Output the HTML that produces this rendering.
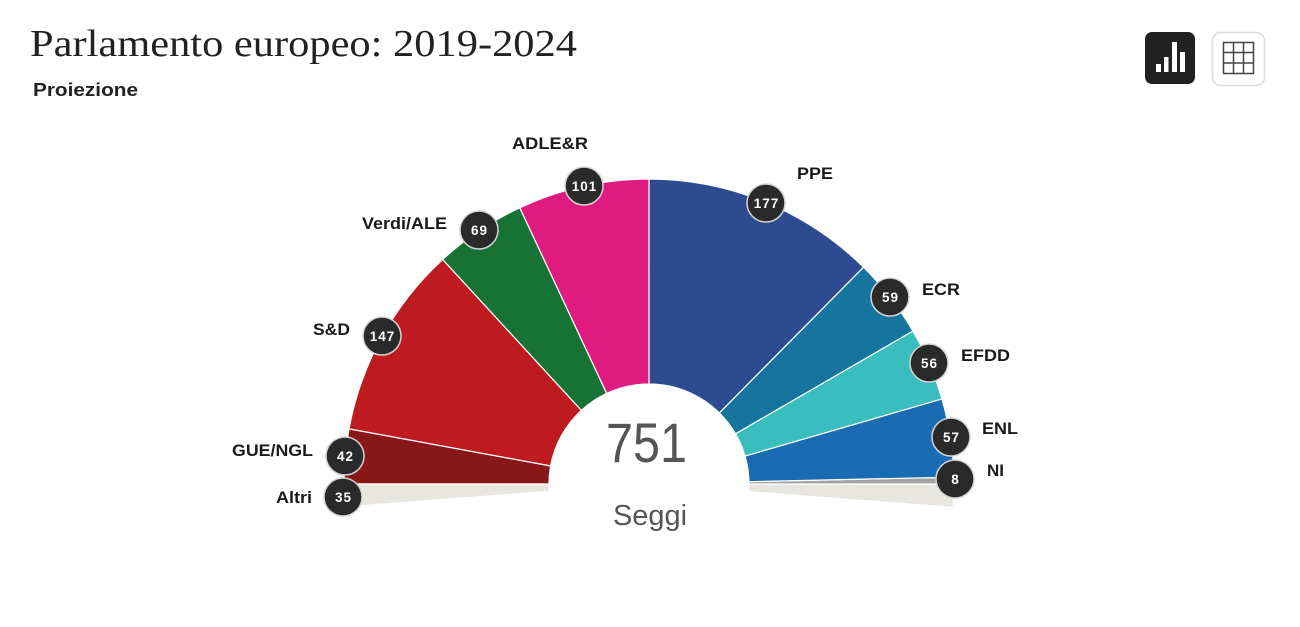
<!DOCTYPE html>
<html>
<head>
<meta charset="utf-8">
<style>
html,body{margin:0;padding:0;background:#fff;}
body{width:1300px;height:627px;overflow:hidden;}
svg{display:block;}
</style>
</head>
<body>
<svg width="1300" height="627" viewBox="0 0 1300 627" xmlns="http://www.w3.org/2000/svg">
  <rect width="1300" height="627" fill="#ffffff"/>

  <!-- Title -->
  <text x="30" y="56" font-family="Liberation Serif, serif" font-size="38" fill="#222" textLength="547" lengthAdjust="spacingAndGlyphs">Parlamento europeo: 2019-2024</text>
  <text x="33" y="96" font-family="Liberation Sans, sans-serif" font-size="18" font-weight="bold" fill="#222" textLength="105" lengthAdjust="spacingAndGlyphs">Proiezione</text>

  <!-- Buttons -->
  <rect x="1145" y="32" width="50" height="52" rx="7" fill="#222"/>
  <rect x="1156" y="64" width="5" height="8" fill="#fff"/>
  <rect x="1164" y="57" width="4.5" height="15" fill="#fff"/>
  <rect x="1172" y="42" width="5" height="30" fill="#fff"/>
  <rect x="1180" y="52" width="5" height="20" fill="#fff"/>

  <rect x="1212.5" y="32.5" width="52" height="53" rx="8" fill="#fff" stroke="#dcdcdc" stroke-width="1.5"/>
  <g stroke="#444" stroke-width="1.5" fill="none">
    <rect x="1223.5" y="42.5" width="30" height="31"/>
    <line x1="1233.5" y1="42.5" x2="1233.5" y2="73.5"/>
    <line x1="1243.5" y1="42.5" x2="1243.5" y2="73.5"/>
    <line x1="1223.5" y1="52.5" x2="1253.5" y2="52.5"/>
    <line x1="1223.5" y1="63" x2="1253.5" y2="63"/>
  </g>

  <!-- Slices -->
  <g stroke="#ffffff" stroke-width="1.2" stroke-linejoin="round">
    <path d="M953.1,507.4 A305,305 0 0 0 954,484 L749,484 A100,100 0 0 1 748.7,491.7 Z" fill="#e8e6e1"/>
    <path d="M954,484 A305,305 0 0 0 953.9,477.1 L749,481.7 A100,100 0 0 1 749,484 Z" fill="#a3a3a3"/>
    <path d="M953.9,477.1 A305,305 0 0 0 941.9,398.9 L745,456.1 A100,100 0 0 1 749,481.7 Z" fill="#196cb1"/>
    <path d="M941.9,398.9 A305,305 0 0 0 912.9,331 L735.5,433.8 A100,100 0 0 1 745,456.1 Z" fill="#3abdbf"/>
    <path d="M912.9,331 A305,305 0 0 0 863.5,267.2 L719.3,412.9 A100,100 0 0 1 735.5,433.8 Z" fill="#16759d"/>
    <path d="M863.5,267.2 A305,305 0 0 0 649,179 L649,384 A100,100 0 0 1 719.3,412.9 Z" fill="#2d4b8e"/>
    <path d="M649,179 A305,305 0 0 0 519.7,207.8 L606.6,393.4 A100,100 0 0 1 649,384 Z" fill="#e01b80"/>
    <path d="M519.7,207.8 A305,305 0 0 0 442.6,259.5 L581.3,410.4 A100,100 0 0 1 606.6,393.4 Z" fill="#177335"/>
    <path d="M442.6,259.5 A305,305 0 0 0 349,428.9 L550.6,466 A100,100 0 0 1 581.3,410.4 Z" fill="#bd1b20"/>
    <path d="M349,428.9 A305,305 0 0 0 344,484 L549,484 A100,100 0 0 1 550.6,466 Z" fill="#8a1718"/>
    <path d="M344,484 A305,305 0 0 0 344.9,506.9 L549.3,491.5 A100,100 0 0 1 549,484 Z" fill="#e8e6e1"/>
  </g>

  <!-- Center text -->
  <text x="606" y="462" font-family="Liberation Sans, sans-serif" font-size="56" fill="#555" textLength="81" lengthAdjust="spacingAndGlyphs">751</text>
  <text x="613" y="525" font-family="Liberation Sans, sans-serif" font-size="29" fill="#555" textLength="74" lengthAdjust="spacingAndGlyphs">Seggi</text>

  <!-- Badges -->
  <g fill="#2a2a2a" stroke="#d4d4d4" stroke-width="1.5">
    <circle cx="584" cy="186" r="19"/>
    <circle cx="479" cy="230" r="19"/>
    <circle cx="382" cy="336" r="19"/>
    <circle cx="345" cy="456" r="19"/>
    <circle cx="343" cy="497" r="19"/>
    <circle cx="766" cy="203" r="19"/>
    <circle cx="890" cy="297" r="19"/>
    <circle cx="929" cy="363" r="19"/>
    <circle cx="951" cy="437" r="19"/>
    <circle cx="955" cy="479" r="19"/>
  </g>
  <g fill="#fff" font-family="Liberation Sans, sans-serif" font-size="13.5" font-weight="bold" text-anchor="middle" letter-spacing="1">
    <text x="584.5" y="191">101</text>
    <text x="479.5" y="235">69</text>
    <text x="382.5" y="341">147</text>
    <text x="345.5" y="461">42</text>
    <text x="343.5" y="502">35</text>
    <text x="766.5" y="208">177</text>
    <text x="890.5" y="302">59</text>
    <text x="929.5" y="368">56</text>
    <text x="951.5" y="442">57</text>
    <text x="955.5" y="484">8</text>
  </g>

  <!-- Labels -->
  <g fill="#1a1a1a" font-family="Liberation Sans, sans-serif" font-size="16.5" font-weight="bold">
    <text x="512" y="149" textLength="76" lengthAdjust="spacingAndGlyphs">ADLE&amp;R</text>
    <text x="362" y="229" textLength="85" lengthAdjust="spacingAndGlyphs">Verdi/ALE</text>
    <text x="313" y="335" textLength="37" lengthAdjust="spacingAndGlyphs">S&amp;D</text>
    <text x="232" y="456" textLength="81" lengthAdjust="spacingAndGlyphs">GUE/NGL</text>
    <text x="276" y="503" textLength="36" lengthAdjust="spacingAndGlyphs">Altri</text>
    <text x="797" y="179" textLength="36" lengthAdjust="spacingAndGlyphs">PPE</text>
    <text x="922" y="295" textLength="38" lengthAdjust="spacingAndGlyphs">ECR</text>
    <text x="961" y="361" textLength="49" lengthAdjust="spacingAndGlyphs">EFDD</text>
    <text x="982" y="434" textLength="36" lengthAdjust="spacingAndGlyphs">ENL</text>
    <text x="987" y="476" textLength="17" lengthAdjust="spacingAndGlyphs">NI</text>
  </g>
</svg>
</body>
</html>
